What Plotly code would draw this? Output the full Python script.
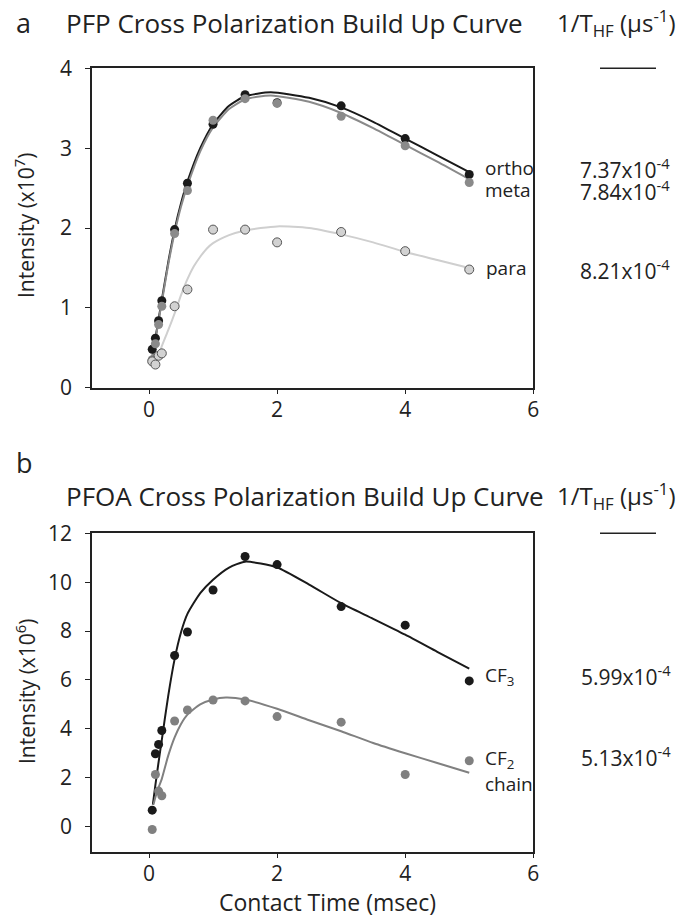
import plotly.graph_objects as go

W, H = 692, 919
FONT = "Open Sans"

# ---------------- data: panel a (PFP) ----------------
t_pts = [0.05, 0.1, 0.15, 0.2, 0.4, 0.6, 1.0, 1.5, 2.0, 3.0, 4.0, 5.0]
ortho_pts = [0.48, 0.62, 0.84, 1.09, 1.98, 2.56, 3.30, 3.67, 3.57, 3.53, 3.12, 2.67]
meta_pts = [0.35, 0.55, 0.79, 1.02, 1.93, 2.47, 3.35, 3.62, 3.56, 3.40, 3.03, 2.57]
para_pts = [0.33, 0.29, 0.40, 0.43, 1.02, 1.23, 1.98, 1.98, 1.82, 1.95, 1.71, 1.48]

t_fit_a = [0.05, 0.1, 0.15, 0.2, 0.3, 0.4, 0.5, 0.6, 0.8, 1.0, 1.25, 1.5, 1.9, 2.5, 3.0, 3.5, 4.0, 4.5, 5.0]
ortho_fit = [0.38, 0.62, 0.86, 1.10, 1.57, 1.98, 2.31, 2.58, 3.00, 3.30, 3.53, 3.65, 3.70, 3.63, 3.51, 3.33, 3.12, 2.91, 2.70]
meta_fit = [0.36, 0.60, 0.84, 1.07, 1.54, 1.94, 2.27, 2.53, 2.96, 3.26, 3.49, 3.61, 3.66, 3.58, 3.44, 3.25, 3.04, 2.83, 2.61]
t_fit_para = [0.15, 0.2, 0.3, 0.4, 0.5, 0.6, 0.7, 0.8, 0.9, 1.0, 1.25, 1.5, 2.0, 2.5, 3.0, 3.5, 4.0, 4.5, 5.0]
para_fit = [0.39, 0.52, 0.72, 0.93, 1.16, 1.36, 1.52, 1.64, 1.74, 1.81, 1.91, 1.97, 2.02, 2.00, 1.92, 1.82, 1.70, 1.60, 1.50]

# ---------------- data: panel b (PFOA) ----------------
cf3_pts = [0.67, 2.98, 3.36, 3.93, 7.00, 7.96, 9.68, 11.05, 10.72, 9.00, 8.24, 5.96]
cf2_pts = [-0.12, 2.13, 1.45, 1.26, 4.32, 4.77, 5.18, 5.14, 4.50, 4.27, 2.13, 2.69]

t_fit_b = [0.06, 0.1, 0.15, 0.2, 0.3, 0.4, 0.5, 0.6, 0.8, 1.0, 1.25, 1.5, 2.0, 2.5, 3.0, 3.5, 4.0, 4.5, 5.0]
cf3_fit = [0.90, 1.70, 2.65, 3.55, 5.35, 6.85, 7.95, 8.70, 9.55, 10.10, 10.60, 10.84, 10.60, 9.90, 9.14, 8.50, 7.85, 7.15, 6.46]
t_fit_cf2 = [0.07, 0.1, 0.15, 0.2, 0.3, 0.4, 0.5, 0.6, 0.8, 1.0, 1.2, 1.5, 2.0, 2.5, 3.0, 3.5, 4.0, 4.5, 5.0]
cf2_fit = [0.90, 1.20, 1.60, 1.95, 2.90, 3.65, 4.20, 4.58, 5.00, 5.20, 5.28, 5.20, 4.82, 4.35, 3.90, 3.42, 3.00, 2.60, 2.20]

# labels / text
rate_labels_a = ["7.37x10<sup>-4</sup>", "7.84x10<sup>-4</sup>", "8.21x10<sup>-4</sup>"]
rate_labels_b = ["5.99x10<sup>-4</sup>", "5.13x10<sup>-4</sup>"]
x_ticks = [0, 2, 4, 6]
y_ticks_a = [0, 1, 2, 3, 4]
y_ticks_b = [0, 2, 4, 6, 8, 10, 12]

BLACK = "#1a1a1a"
GRAY = "#8a8a8a"
LIGHT = "#cfcfcf"
CF2C = "#808080"
INK = "#222222"

def px(x):
    return x / W

def py(y):
    return 1 - y / H

fig = go.Figure()

def line(x, y, color, xa, ya, w=2):
    fig.add_trace(go.Scatter(x=x, y=y, mode="lines", line=dict(color=color, width=w, shape="spline", smoothing=0.6),
                             xaxis=xa, yaxis=ya, showlegend=False, hoverinfo="skip"))

def pts(x, y, fill, xa, ya, outline=None, size=9):
    mk = dict(color=fill, size=size)
    mk["line"] = dict(color=outline if outline else fill, width=1 if outline else 0)
    fig.add_trace(go.Scatter(x=x, y=y, mode="markers", marker=mk, xaxis=xa, yaxis=ya,
                             showlegend=False, cliponaxis=False))

# panel a
line(t_fit_para, para_fit, LIGHT, "x", "y")
line(t_fit_a, ortho_fit, BLACK, "x", "y")
line(t_fit_a, meta_fit, GRAY, "x", "y")
pts(t_pts, ortho_pts, BLACK, "x", "y")
pts(t_pts, meta_pts, GRAY, "x", "y")
pts(t_pts, para_pts, "#d2d2d2", "x", "y", outline="#555555", size=9)

# panel b
line(t_fit_b, cf3_fit, BLACK, "x2", "y2")
line(t_fit_cf2, cf2_fit, CF2C, "x2", "y2")
pts(t_pts, cf3_pts, BLACK, "x2", "y2")
pts(t_pts, cf2_pts, CF2C, "x2", "y2")

axis_common = dict(showline=True, linecolor=INK, linewidth=1.5, mirror=True, ticks="outside",
                   ticklen=5, tickwidth=1.2, tickcolor=INK, showgrid=False, zeroline=False,
                   tickfont=dict(family=FONT, size=21, color=INK))

xdom = [px(92), px(533.3)]
fig.update_layout(
    width=W, height=H, margin=dict(l=0, r=0, t=0, b=0, autoexpand=False),
    paper_bgcolor="white", plot_bgcolor="white",
    font=dict(family=FONT, color=INK),
    xaxis=dict(domain=xdom, range=[-0.89, 6], tickvals=x_ticks, anchor="y", ticklabelstandoff=-3, **axis_common),
    yaxis=dict(domain=[py(387.7), py(68.3)], range=[0, 4], tickvals=y_ticks_a, anchor="x", ticklabelstandoff=9, **axis_common),
    xaxis2=dict(domain=xdom, range=[-0.89, 6], tickvals=x_ticks, anchor="y2", ticklabelstandoff=-3, **axis_common),
    yaxis2=dict(domain=[py(851.7), py(533.3)], range=[-1.03, 12], tickvals=y_ticks_b, anchor="x2", ticklabelstandoff=9, **axis_common),
)

ann = []
def text(x, y, s, size, xanchor="left", angle=0):
    ann.append(dict(x=px(x), y=py(y), xref="paper", yref="paper", text=s, showarrow=False,
                    xanchor=xanchor, yanchor="middle", textangle=angle,
                    font=dict(family=FONT, size=size, color=INK)))

# panel letters and titles
text(14, 23, "a", 27)
text(64, 23, "PFP Cross Polarization Build Up Curve", 26)
text(555, 23, "1/T<sub>HF</sub> (μs<sup>-1</sup>)", 24)
text(14, 462, "b", 27)
text(64, 496, "PFOA Cross Polarization Build Up Curve", 26)
text(555, 496, "1/T<sub>HF</sub> (μs<sup>-1</sup>)", 24)

# axis titles
text(25, 226, "Intensity (x10<sup>7</sup>)", 21, xanchor="center", angle=-90)
text(25, 692, "Intensity (x10<sup>6</sup>)", 21, xanchor="center", angle=-90)
text(327, 902, "Contact Time (msec)", 23, xanchor="center")

# series labels
text(483, 168, "ortho", 19)
text(483, 190, "meta", 19)
text(484, 268, "para", 19)
text(483, 676, "CF<sub>3</sub>", 19)
text(483, 759, "CF<sub>2</sub>", 19)
text(483, 784, "chain", 19)

# rate values
text(578, 168, rate_labels_a[0], 21)
text(578, 190, rate_labels_a[1], 21)
text(578, 269, rate_labels_a[2], 21)
text(579, 675, rate_labels_b[0], 21)
text(579, 756, rate_labels_b[1], 21)

fig.update_layout(annotations=ann)

# header underlines
for yy in (68.3, 533.3):
    fig.add_shape(type="line", xref="paper", yref="paper", x0=px(600), x1=px(656), y0=py(yy), y1=py(yy),
                  line=dict(color=INK, width=1.5))

fig.write_html("out.html", config={"displayModeBar": False},
               post_script="document.body.style.margin='0px';document.body.style.padding='0px';")
